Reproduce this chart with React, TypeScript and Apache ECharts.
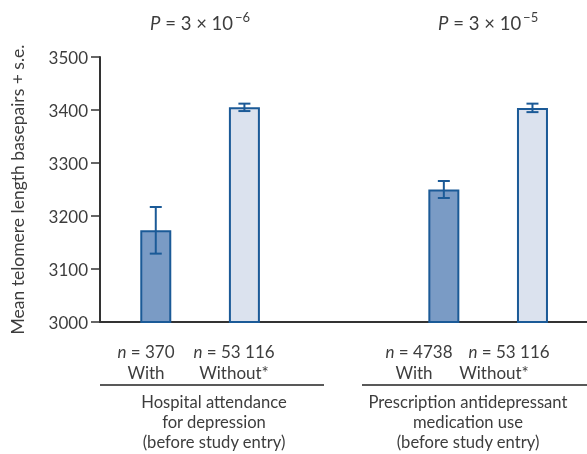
import React, { useEffect, useRef } from "react";
import * as echarts from "echarts";

// ---- data ----
const groups = ["Hospital attendance\nfor depression\n(before study entry)", "Prescription antidepressant\nmedication use\n(before study entry)"];
const memberNames = ["With", "Without*"];
const nValues = [["370", "53 116"], ["4738", "53 116"]];
const meanValues = [[3173, 3405], [3250, 3404]];
const seValues = [[44, 7], [16, 8]];
const pExponents = ["−6", "−5"];
const yTicks = { min: 3000, max: 3500, interval: 100 };

const DARK = "#1b5a97";
const FILL_WITH = "#7a9bc5";
const FILL_WITHOUT = "#dbe2ee";
const TEXT = "#3d3d3d";
const FONT = "Lato";
const GROUP_GAP = 3.25;

export default function App() {
  const ref = useRef<HTMLDivElement>(null);
  useEffect(() => {
    if (!ref.current) return;
    const chart = echarts.init(ref.current, null, { renderer: "svg" });

    const barData: any[] = [];
    const errData: any[] = [];
    groups.forEach((_, g) => {
      memberNames.forEach((_, m) => {
        const x = g * GROUP_GAP + m;
        const v = meanValues[g][m];
        const se = seValues[g][m];
        barData.push({
          value: [x, v],
          itemStyle: { color: m === 0 ? FILL_WITH : FILL_WITHOUT, borderColor: DARK, borderWidth: 2 },
        });
        errData.push([x, v - se, v + se]);
      });
    });

    const xMin = -56 / 89;
    const xMax = xMin + 489 / 89;

    chart.setOption({
      animation: false,
      grid: { left: 98, right: 0, top: 57, bottom: 132, containLabel: false },
      xAxis: {
        type: "value",
        min: xMin,
        max: xMax,
        axisLine: { show: true, onZero: false, lineStyle: { color: "#333", width: 2 } },
        axisTick: { show: false },
        axisLabel: { show: false },
        splitLine: { show: false },
      },
      yAxis: {
        type: "value",
        min: yTicks.min,
        max: yTicks.max,
        interval: yTicks.interval,
        name: "Mean telomere length basepairs + s.e.",
        nameLocation: "middle",
        nameGap: 74,
        nameTextStyle: { fontFamily: FONT, fontSize: 17.5, color: TEXT },
        axisLine: { show: true, onZero: false, lineStyle: { color: "#333", width: 2 } },
        axisTick: { show: true, length: 9, lineStyle: { color: "#333", width: 1.5 } },
        axisLabel: { fontFamily: FONT, fontSize: 17, color: TEXT, margin: 12, formatter: (v: number) => String(v) },
        splitLine: { show: false },
      },
      series: [
        {
          type: "bar",
          data: barData,
          barWidth: 31,
          clip: true,
        },
        {
          type: "custom",
          data: errData,
          z: 5,
          renderItem: (params: any, api: any) => {
            const x = api.value(0);
            const lo = api.coord([x, api.value(1)]);
            const hi = api.coord([x, api.value(2)]);
            const w = 6;
            const style = { stroke: DARK, lineWidth: 2 };
            return {
              type: "group",
              children: [
                { type: "line", shape: { x1: lo[0], y1: lo[1], x2: hi[0], y2: hi[1] }, style },
                { type: "line", shape: { x1: lo[0] - w, y1: lo[1], x2: lo[0] + w, y2: lo[1] }, style },
                { type: "line", shape: { x1: hi[0] - w, y1: hi[1], x2: hi[0] + w, y2: hi[1] }, style },
              ],
            };
          },
        },
      ],
    });

    // annotations (text layout)
    const nCenters = [[146, 234], [419, 509]];
    const wordCenters = [[146, 234], [414, 494]];
    const groupTextCenters = [214, 468];
    const lineExtents = [[100, 324], [362, 587]];
    const graphics: any[] = [];
    groups.forEach((gName, g) => {
      const c0 = chart.convertToPixel({ gridIndex: 0 }, [g * GROUP_GAP, yTicks.max]) as number[];
      const c1 = chart.convertToPixel({ gridIndex: 0 }, [g * GROUP_GAP + 1, yTicks.max]) as number[];
      const pc = (c0[0] + c1[0]) / 2;
      graphics.push({
        type: "text",
        x: pc,
        y: 23,
        style: {
          text: `{i|P}{n| = 3 × 10}{s|${pExponents[g]}}`,
          align: "center",
          verticalAlign: "middle",
          rich: {
            i: { fontFamily: FONT, fontSize: 18.5, fontStyle: "italic", fill: TEXT },
            n: { fontFamily: FONT, fontSize: 18.5, fill: TEXT },
            s: { fontFamily: FONT, fontSize: 13, fill: TEXT, padding: [0, 0, 13, 2] },
          },
        },
      });
      memberNames.forEach((mName, m) => {
        graphics.push({
          type: "text",
          x: nCenters[g][m],
          y: 351,
          style: {
            text: `{i|n}{n| = ${nValues[g][m]}}`,
            align: "center",
            verticalAlign: "middle",
            rich: {
              i: { fontFamily: FONT, fontSize: 17, fontStyle: "italic", fill: TEXT, lineHeight: 20 },
              n: { fontFamily: FONT, fontSize: 17, fill: TEXT, lineHeight: 20 },
            },
          },
        });
        graphics.push({
          type: "text",
          x: wordCenters[g][m],
          y: 372,
          style: { text: mName, align: "center", verticalAlign: "middle", fontFamily: FONT, fontSize: 17, lineHeight: 20, fill: TEXT },
        });
      });
      graphics.push({
        type: "line",
        shape: { x1: lineExtents[g][0], y1: 385, x2: lineExtents[g][1], y2: 385 },
        style: { stroke: "#222", lineWidth: 1.5 },
      });
      graphics.push({
        type: "text",
        x: groupTextCenters[g],
        y: 392,
        style: {
          text: gName,
          align: "center",
          verticalAlign: "top",
          fontFamily: FONT,
          fontSize: 16.6,
          lineHeight: 20,
          fill: TEXT,
        },
      });
    });
    chart.setOption({ graphic: graphics });

    return () => chart.dispose();
  }, []);
  return <div ref={ref} style={{ position: "fixed", left: 0, top: 0, width: 587, height: 454 }} />;
}
